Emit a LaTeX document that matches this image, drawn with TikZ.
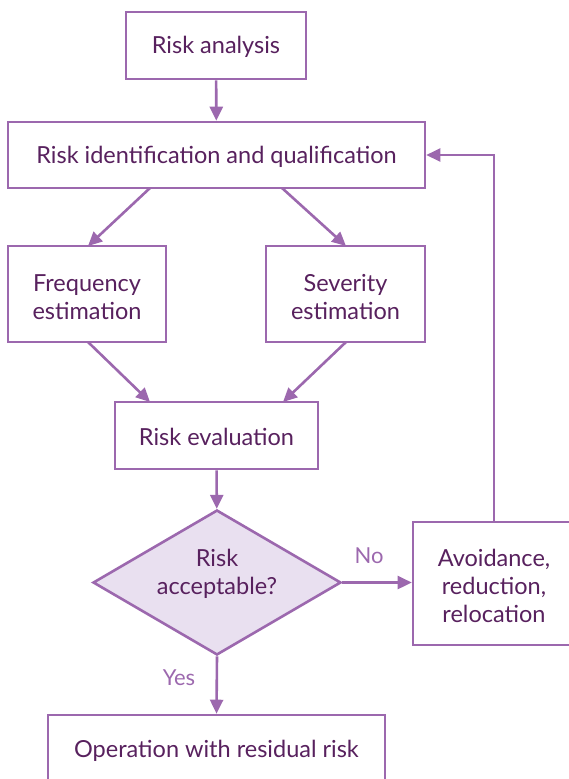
\documentclass[tikz,border=0pt]{standalone}
\usepackage{fontspec}
\setmainfont{Lato}
\usetikzlibrary{arrows.meta,shapes.geometric}
\definecolor{frame}{HTML}{9C68AE}
\definecolor{ink}{HTML}{58215E}
\definecolor{lav}{HTML}{E9E0F0}
\tikzset{
  box/.style={draw=frame, line width=2.6pt, fill=white, text=ink, align=center,
    inner sep=0pt, font=\fontsize{23.5}{28}\selectfont},
  words/.style={text=ink, align=center, inner sep=0pt, font=\fontsize{23.5}{28}\selectfont},
  link/.style={draw=frame, line width=2.6pt, -{Triangle[length=14pt,width=13pt]}},
  tag/.style={text=frame, font=\fontsize{22}{26}\selectfont}
}
\begin{document}
\begin{tikzpicture}[x=1pt,y=-1pt]
\useasboundingbox (0,0) rectangle (569,779);
\clip (0,0) rectangle (569,779);
% process boxes
\node[box, minimum width=180pt, minimum height=67pt] (ana) at (216,45.5) {};
\node[words] (anatext) at (216,47) {Risk analysis};
\node[box, minimum width=417pt, minimum height=66pt] (ident) at (216.5,155) {};
\node[words] (identtext) at (216.5,157) {Risk identification and qualification};
\node[box, minimum width=158pt, minimum height=96pt] (freq) at (87,294) {};
\node[words] (freqtext) at (87,297) {Frequency\\estimation};
\node[box, minimum width=159pt, minimum height=96pt] (sev) at (345.5,294) {};
\node[words] (sevtext) at (345.5,297) {Severity\\estimation};
\node[box, minimum width=203pt, minimum height=67pt] (eval) at (216.5,435.5) {};
\node[words] (evaltext) at (216.5,437) {Risk evaluation};
% decision
\node[box, diamond, fill=lav, minimum width=248pt, minimum height=145pt, aspect=1.71] (acc) at (217,582.5) {};
\node[words] (acctext) at (217,574) {Risk\\acceptable?};
\node[box, minimum width=166pt, minimum height=123pt] (avoid) at (496,583.5) {};
\node[words] (avoidtext) at (494,586) {Avoidance,\\reduction,\\relocation};
\node[box, minimum width=337pt, minimum height=90pt] (oper) at (216.5,760) {};
\node[words] (opertext) at (216.5,751) {Operation with residual risk};
% coordinates on box edges
\coordinate (i1) at (150,188);
\coordinate (i2) at (282,188);
\coordinate (f1) at (88,342);
\coordinate (s1) at (346,342);
\coordinate (e1) at (150,402);
\coordinate (e2) at (283,402);
\coordinate (fr) at (88,246);
\coordinate (sv) at (346,246);
\coordinate (up) at (494,155);
% connectors
\draw[link] (ana) -- (ident);
\draw[link] (i1) -- (fr);
\draw[link] (i2) -- (sv);
\draw[link] (f1) -- (e1);
\draw[link] (s1) -- (e2);
\draw[link] (eval) -- (acc);
\draw[link] (acc.east) -- (avoid.west |- acc.east);
\draw[link] (acc.south) -- (oper.north);
\draw[link] (avoid.north -| up) -- (up) -- (ident.east);
% branch labels
\node[tag] (no) at (369,556) {No};
\node[tag] (yes) at (179,678) {Yes};
\end{tikzpicture}
\end{document}
